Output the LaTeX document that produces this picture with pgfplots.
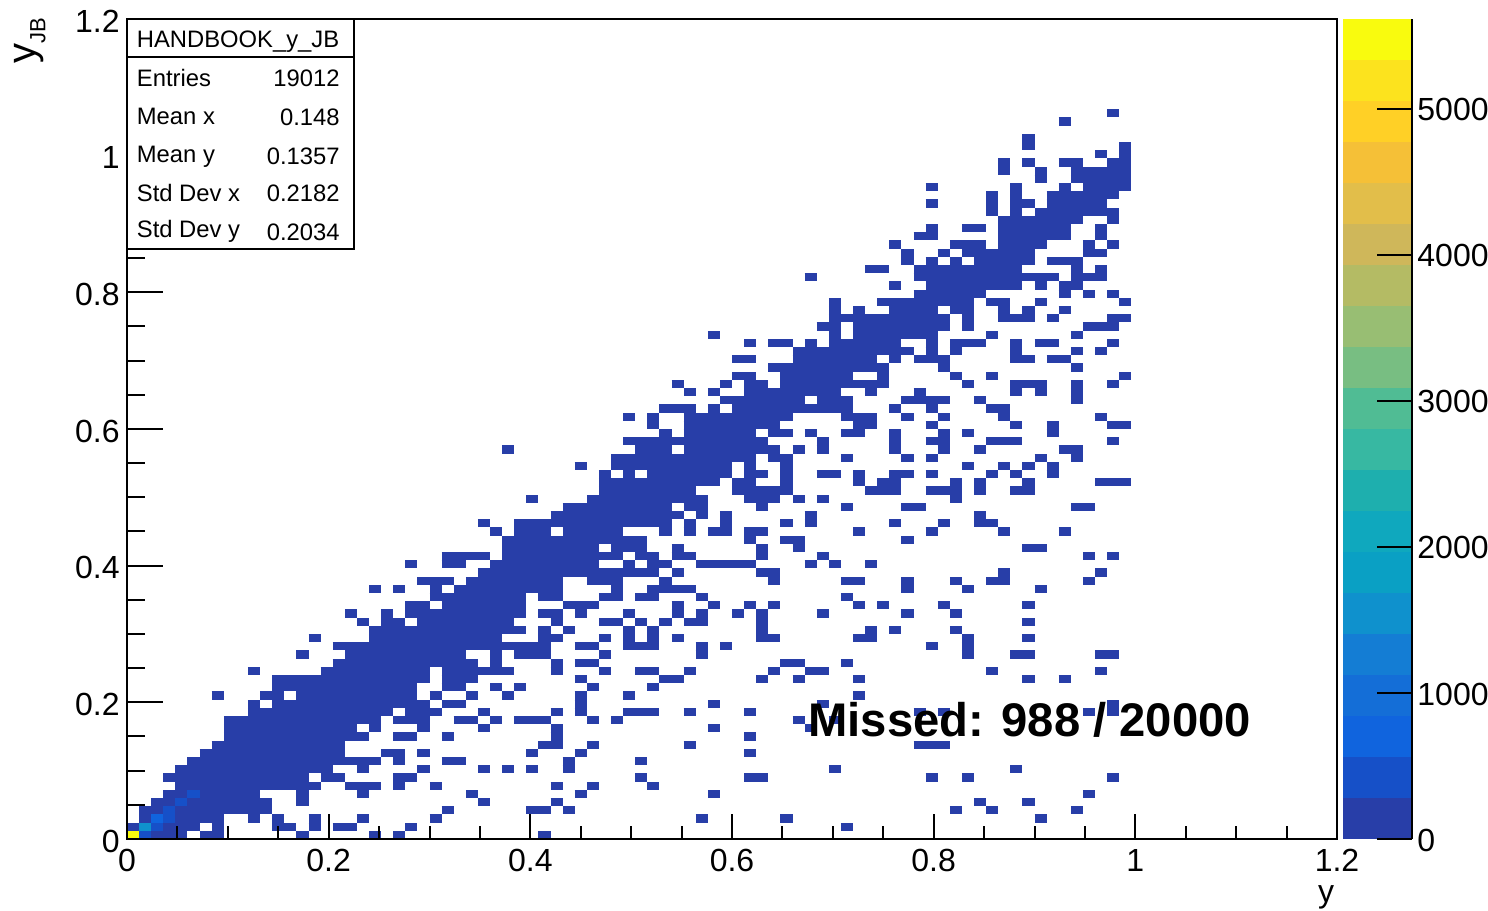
\documentclass[border=0pt]{standalone}
\usepackage{fontspec}
\setmainfont{Liberation Sans}
\usepackage{pgfplots}
\pgfplotsset{compat=1.18}

% palette of the z scale, lowest band first
\definecolor{b0}{RGB}{40,62,168}
\definecolor{b1}{RGB}{22,80,200}
\definecolor{b2}{RGB}{16,100,222}
\definecolor{b3}{RGB}{20,110,215}
\definecolor{b4}{RGB}{20,125,212}
\definecolor{b5}{RGB}{15,145,205}
\definecolor{b6}{RGB}{10,160,196}
\definecolor{b7}{RGB}{15,168,190}
\definecolor{b8}{RGB}{30,175,174}
\definecolor{b9}{RGB}{55,184,162}
\definecolor{b10}{RGB}{80,188,148}
\definecolor{b11}{RGB}{120,190,130}
\definecolor{b12}{RGB}{152,190,115}
\definecolor{b13}{RGB}{180,187,100}
\definecolor{b14}{RGB}{207,183,90}
\definecolor{b15}{RGB}{226,190,74}
\definecolor{b16}{RGB}{245,192,55}
\definecolor{b17}{RGB}{255,208,38}
\definecolor{b18}{RGB}{252,227,30}
\definecolor{b19}{RGB}{249,251,14}

\newcommand{\tickfont}{\fontsize{16}{18}\selectfont}

% a run of n filled bins in row j, starting at bin i (100 x 100 bins over 0..1.2)
\pgfplotsset{
  binruns/.style={draw=none, no markers,
    error bars/x dir=plus, error bars/x explicit, error bars/error mark=none,
    error bars/error bar style={line width=4.15pt, draw=#1, solid}},
  /pgfplots/table/bins/.style={row sep=\\, x expr=\thisrow{i}*0.012, y expr=(\thisrow{j}+0.5)*0.012,
    x error expr=\thisrow{n}*0.012},
  frame/.style={scale only axis, width=605pt, height=410pt, at={(0pt,0pt)}, anchor=south west,
    xmin=0, xmax=1.2, ymin=0, ymax=1.2, tick align=inside,
    axis line style={line width=1pt},
    every tick/.style={black, line width=1pt},
    tick label style={font=\tickfont}},
}

\begin{document}
\begin{tikzpicture}
\path[use as bounding box] (-63.5pt,-35.5pt) rectangle (680.5pt,419.5pt);

% y ticks live in their own frame, they are longer than the x ticks
\begin{axis}[frame, xtick=\empty,
  major tick length=18pt, minor tick length=9pt,
  ytick={0,0.2,0.4,0.6,0.8,1,1.2}, yticklabels={0,0.2,0.4,0.6,0.8,1,1.2},
  minor y tick num=3, ytick pos=left,
  yticklabel style={inner sep=0pt, xshift=-3.5pt, yshift=-1pt},
  ylabel={y{\raisebox{-0.45ex}{\fontsize{11}{12}\selectfont JB}}},
  ylabel style={at={(axis description cs:-0.08,0.973)}, anchor=center, font=\fontsize{20}{22}\selectfont}]
\end{axis}

\begin{axis}[frame, axis on top,
  major tick length=12.5pt, minor tick length=6.5pt,
  xtick={0,0.2,0.4,0.6,0.8,1,1.2}, xticklabels={0,0.2,0.4,0.6,0.8,1,1.2},
  minor x tick num=3, ytick=\empty, xtick pos=bottom,
  xticklabel style={inner sep=0pt, yshift=-5pt},
  xlabel={y},
  xlabel style={at={(axis description cs:0.991,-0.071)}, anchor=center, font=\tickfont}]

\addplot[binruns=b0] table[bins] {
i j n\\
2 0 3\\ 6 0 2\\ 14 0 1\\ 20 0 1\\ 22 0 1\\ 34 0 1\\
0 1 1\\ 3 1 3\\ 7 1 1\\ 12 1 2\\ 15 1 1\\ 17 1 2\\ 23 1 1\\ 59 1 1\\
1 2 1\\ 4 2 4\\ 10 2 1\\ 12 2 1\\ 15 2 1\\ 19 2 1\\ 25 2 1\\ 47 2 1\\ 54 2 1\\ 75 2 1\\
1 3 2\\ 4 3 8\\ 26 3 1\\ 33 3 2\\ 36 3 1\\ 68 3 1\\ 71 3 1\\ 78 3 1\\
2 4 2\\ 5 4 7\\ 14 4 1\\ 29 4 1\\ 35 4 1\\ 70 4 1\\ 74 4 1\\
3 5 2\\ 6 5 5\\ 14 5 1\\ 19 5 1\\ 28 5 1\\ 37 5 1\\ 48 5 1\\ 79 5 1\\
4 6 12\\ 18 6 3\\ 22 6 1\\ 25 6 1\\ 35 6 1\\ 38 6 1\\ 43 6 1\\
3 7 12\\ 16 7 2\\ 22 7 2\\ 42 7 1\\ 51 7 2\\ 66 7 1\\ 69 7 1\\ 81 7 1\\
4 8 13\\ 19 8 1\\ 24 8 1\\ 29 8 1\\ 31 8 1\\ 33 8 1\\ 36 8 1\\ 58 8 1\\ 73 8 1\\
5 9 16\\ 22 9 1\\ 26 9 2\\ 36 9 1\\ 42 9 1\\
6 10 12\\ 21 10 2\\ 24 10 1\\ 33 10 1\\ 37 10 1\\ 51 10 1\\
7 11 11\\ 34 11 2\\ 38 11 1\\ 46 11 1\\ 65 11 3\\
8 12 12\\ 22 12 2\\ 26 12 1\\ 35 12 1\\ 51 12 1\\
8 13 11\\ 20 13 1\\ 24 13 1\\ 29 13 1\\ 35 13 1\\ 48 13 1\\ 56 13 1\\
8 14 13\\ 22 14 3\\ 27 14 2\\ 30 14 1\\ 32 14 3\\ 38 14 1\\ 40 14 1\\ 55 14 1\\ 58 14 1\\
10 15 12\\ 23 15 3\\ 29 15 1\\ 35 15 1\\ 37 15 1\\ 41 15 3\\ 46 15 1\\ 51 15 1\\ 65 15 1\\ 67 15 1\\ 79 15 1\\ 81 15 1\\
10 16 1\\ 12 16 13\\ 26 16 2\\ 37 16 1\\ 48 16 1\\ 57 16 1\\ 81 16 1\\
7 17 1\\ 11 17 2\\ 14 17 10\\ 25 17 1\\ 28 17 1\\ 31 17 1\\ 37 17 1\\ 41 17 1\\ 60 17 1\\
12 18 12\\ 26 18 2\\ 30 18 1\\ 32 18 1\\ 38 18 1\\ 43 18 1\\
12 19 13\\ 26 19 3\\ 37 19 1\\ 44 19 2\\ 52 19 1\\ 55 19 1\\ 60 19 1\\ 74 19 1\\ 77 19 1\\
10 20 1\\ 16 20 9\\ 26 20 6\\ 35 20 1\\ 39 20 1\\ 42 20 2\\ 46 20 1\\ 53 20 1\\ 56 20 2\\ 71 20 1\\ 80 20 1\\
17 21 12\\ 30 21 1\\ 35 21 1\\ 37 21 2\\ 54 21 2\\ 59 21 1\\
14 22 1\\ 18 22 10\\ 30 22 1\\ 32 22 3\\ 39 22 1\\ 47 22 1\\ 69 22 1\\ 73 22 2\\ 80 22 2\\
17 23 18\\ 37 23 2\\ 41 23 3\\ 47 23 1\\ 49 23 1\\ 66 23 1\\ 69 23 1\\
15 24 1\\ 20 24 11\\ 34 24 2\\ 39 24 1\\ 41 24 1\\ 43 24 1\\ 45 24 1\\ 52 24 2\\ 60 24 2\\ 69 24 1\\ 74 24 1\\
20 25 13\\ 34 25 1\\ 36 25 1\\ 41 25 1\\ 43 25 1\\ 52 25 1\\ 61 25 1\\ 63 25 1\\ 68 25 1\\
19 26 1\\ 21 26 2\\ 24 26 8\\ 35 26 1\\ 39 26 2\\ 42 26 1\\ 44 26 1\\ 46 26 2\\ 52 26 1\\ 74 26 1\\
18 27 1\\ 21 27 1\\ 23 27 10\\ 34 27 2\\ 37 27 1\\ 41 27 1\\ 45 27 1\\ 47 27 1\\ 50 27 1\\ 52 27 1\\ 57 27 1\\ 64 27 1\\ 68 27 1\\
23 28 2\\ 26 28 7\\ 36 28 3\\ 45 28 1\\ 48 28 1\\ 51 28 1\\ 53 28 1\\ 60 28 1\\ 62 28 1\\ 67 28 1\\ 74 28 1\\
25 29 8\\ 34 29 2\\ 39 29 2\\ 42 29 2\\ 47 29 1\\ 59 29 1\\
20 30 1\\ 22 30 1\\ 25 30 1\\ 27 30 9\\ 40 30 1\\ 43 30 4\\ 64 30 1\\ 69 30 1\\ 75 30 1\\
24 31 3\\ 28 31 8\\ 38 31 3\\ 44 31 1\\ 53 31 1\\ 59 31 2\\ 64 31 1\\ 68 31 1\\ 71 31 2\\ 79 31 1\\
29 32 15\\ 45 32 1\\ 52 32 2\\ 72 32 1\\ 80 32 1\\
23 33 1\\ 26 33 2\\ 30 33 9\\ 41 33 1\\ 43 33 2\\ 47 33 5\\ 56 33 1\\ 58 33 1\\ 61 33 1\\
26 34 4\\ 31 34 10\\ 42 34 2\\ 45 34 2\\ 52 34 1\\ 57 34 1\\ 79 34 1\\ 81 34 1\\
31 35 8\\ 40 35 3\\ 45 35 1\\ 52 35 1\\ 55 35 1\\ 74 35 2\\
31 36 12\\ 51 36 1\\ 54 36 2\\ 64 36 1\\
30 37 1\\ 32 37 3\\ 36 37 5\\ 44 37 1\\ 46 37 1\\ 48 37 2\\ 51 37 2\\ 60 37 1\\ 66 37 1\\ 72 37 1\\ 77 37 1\\
29 38 1\\ 32 38 13\\ 46 38 1\\ 49 38 1\\ 54 38 1\\ 56 38 1\\ 63 38 1\\ 67 38 1\\ 70 38 2\\
35 39 11\\ 47 39 1\\ 49 39 1\\ 56 39 1\\ 70 39 1\\
36 40 9\\ 46 40 2\\ 52 40 1\\ 59 40 1\\ 64 40 2\\ 78 40 2\\
33 41 1\\ 38 41 10\\ 51 41 3\\ 55 41 1\\ 57 41 1\\ 68 41 1\\
39 42 8\\ 50 42 5\\ 61 42 3\\ 66 42 3\\ 70 42 1\\ 73 42 2\\
39 43 10\\ 50 43 2\\ 54 43 1\\ 60 43 1\\ 62 43 2\\ 68 43 1\\ 70 43 1\\ 74 43 1\\ 80 43 3\\
39 44 1\\ 41 44 1\\ 43 44 7\\ 51 44 2\\ 54 44 1\\ 57 44 2\\ 60 44 1\\ 63 44 2\\ 66 44 1\\ 71 44 1\\ 73 44 1\\ 76 44 1\\
37 45 1\\ 40 45 10\\ 51 45 1\\ 54 45 1\\ 69 45 1\\ 72 45 1\\ 74 45 1\\ 76 45 1\\
40 46 12\\ 53 46 2\\ 59 46 1\\ 64 46 1\\ 66 46 1\\ 75 46 1\\ 78 46 1\\
31 47 1\\ 42 47 3\\ 46 47 8\\ 55 47 1\\ 57 47 1\\ 63 47 1\\ 67 47 1\\ 70 47 1\\ 77 47 2\\
41 48 12\\ 57 48 1\\ 63 48 1\\ 66 48 2\\ 71 48 3\\ 81 48 1\\
44 49 1\\ 46 49 6\\ 53 49 2\\ 56 49 1\\ 59 49 2\\ 63 49 1\\ 67 49 1\\ 69 49 1\\ 76 49 1\\
43 50 1\\ 46 50 8\\ 60 50 2\\ 66 50 1\\ 73 50 1\\ 76 50 1\\ 81 50 2\\
41 51 1\\ 43 51 1\\ 46 51 9\\ 59 51 3\\ 64 51 1\\ 67 51 1\\ 72 51 1\\ 80 51 1\\
44 52 3\\ 48 52 1\\ 50 52 10\\ 63 52 1\\ 66 52 1\\ 71 52 2\\
49 53 7\\ 57 53 3\\ 64 53 4\\ 70 53 1\\ 78 53 1\\
46 54 1\\ 48 54 1\\ 51 54 8\\ 61 54 1\\ 65 54 1\\ 73 54 1\\ 75 54 1\\ 78 54 1\\
45 55 1\\ 49 55 1\\ 51 55 2\\ 54 55 9\\ 69 55 1\\ 73 55 3\\ 78 55 1\\ 81 55 1\\
50 56 2\\ 54 56 6\\ 62 56 1\\ 68 56 1\\ 71 56 1\\ 82 56 1\\
53 57 10\\ 67 57 1\\ 78 57 1\\
50 58 2\\ 55 58 7\\ 63 58 1\\ 65 58 3\\ 73 58 2\\ 76 58 2\\
55 59 10\\ 66 59 1\\ 68 59 1\\ 73 59 1\\ 78 59 1\\ 80 59 1\\
51 60 1\\ 53 60 2\\ 56 60 1\\ 58 60 6\\ 66 60 1\\ 68 60 3\\ 73 60 1\\ 75 60 2\\ 81 60 1\\
48 61 1\\ 58 61 1\\ 60 61 7\\ 71 61 1\\ 78 61 1\\
57 62 2\\ 60 62 8\\ 69 62 1\\ 79 62 3\\
58 63 10\\ 69 63 1\\ 72 63 3\\ 76 63 1\\ 81 63 2\\
58 64 1\\ 60 64 1\\ 63 64 4\\ 68 64 2\\ 72 64 1\\ 74 64 1\\ 77 64 1\\
58 65 1\\ 62 65 8\\ 71 65 2\\ 75 65 1\\ 82 65 1\\
65 66 6\\ 77 66 1\\ 79 66 1\\ 81 66 1\\
63 67 1\\ 66 67 8\\ 75 67 1\\ 77 67 2\\
56 68 1\\ 65 68 12\\ 78 68 3\\
61 69 2\\ 65 69 9\\ 78 69 1\\ 80 69 1\\
64 70 1\\ 66 70 1\\ 68 70 1\\ 70 70 5\\ 76 70 3\\
64 71 1\\ 67 71 1\\ 69 71 6\\ 79 71 2\\
63 72 1\\ 68 72 3\\ 72 72 4\\ 79 72 1\\ 81 72 1\\
65 73 2\\ 72 73 6\\ 80 73 1\\
66 74 1\\ 69 74 2\\ 72 74 6\\ 80 74 1\\
72 75 7\\ 81 75 1\\
71 76 1\\ 73 76 1\\ 75 76 7\\
66 77 1\\ 71 77 1\\ 73 77 2\\ 76 77 5\\
71 78 1\\ 73 78 1\\ 76 78 6\\
66 79 1\\ 73 79 1\\ 77 79 1\\ 79 79 4\\
75 80 1\\ 78 80 5\\
72 81 1\\ 75 81 1\\ 78 81 5\\
72 82 1\\ 74 82 1\\ 77 82 2\\ 81 82 2\\
80 83 1\\ 82 83 1\\
74 84 1\\ 82 84 1\\
74 85 1\\
77 87 1\\
81 88 1\\
};
% the few hot bins next to the origin
\addplot[binruns=b1] table[bins] {
i j n\\
1 0 1\\ 2 1 1\\ 3 2 1\\ 3 3 1\\ 4 4 1\\ 5 5 1\\
};
\addplot[binruns=b2] table[bins] {
i j n\\
2 2 1\\
};
\addplot[binruns=b5] table[bins] {
i j n\\
1 1 1\\
};
\addplot[binruns=b19] table[bins] {
i j n\\
0 0 1\\
};
\end{axis}

% z scale
\begin{axis}[scale only axis, width=34.5pt, height=410pt, at={(608pt,0pt)}, anchor=south west,
  xmin=0, xmax=1, ymin=0, ymax=5616,
  axis x line=none, axis y line=right, tick align=inside,
  axis line style={line width=1pt, -},
  every tick/.style={black, line width=1pt},
  major tick length=17.5pt,
  ytick={0,1000,2000,3000,4000,5000}, yticklabels={0,1000,2000,3000,4000,5000},
  scaled y ticks=false, axis on top,
  yticklabel style={font=\tickfont, inner sep=0pt, xshift=2.5pt, yshift=-0.5pt}]
\addplot[draw=none, fill=b0] coordinates {(0,0)(1,0)(1,281)(0,281)} --cycle;
\addplot[draw=none, fill=b1] coordinates {(0,281)(1,281)(1,562)(0,562)} --cycle;
\addplot[draw=none, fill=b2] coordinates {(0,562)(1,562)(1,842)(0,842)} --cycle;
\addplot[draw=none, fill=b3] coordinates {(0,842)(1,842)(1,1123)(0,1123)} --cycle;
\addplot[draw=none, fill=b4] coordinates {(0,1123)(1,1123)(1,1404)(0,1404)} --cycle;
\addplot[draw=none, fill=b5] coordinates {(0,1404)(1,1404)(1,1685)(0,1685)} --cycle;
\addplot[draw=none, fill=b6] coordinates {(0,1685)(1,1685)(1,1966)(0,1966)} --cycle;
\addplot[draw=none, fill=b7] coordinates {(0,1966)(1,1966)(1,2246)(0,2246)} --cycle;
\addplot[draw=none, fill=b8] coordinates {(0,2246)(1,2246)(1,2527)(0,2527)} --cycle;
\addplot[draw=none, fill=b9] coordinates {(0,2527)(1,2527)(1,2808)(0,2808)} --cycle;
\addplot[draw=none, fill=b10] coordinates {(0,2808)(1,2808)(1,3089)(0,3089)} --cycle;
\addplot[draw=none, fill=b11] coordinates {(0,3089)(1,3089)(1,3370)(0,3370)} --cycle;
\addplot[draw=none, fill=b12] coordinates {(0,3370)(1,3370)(1,3650)(0,3650)} --cycle;
\addplot[draw=none, fill=b13] coordinates {(0,3650)(1,3650)(1,3931)(0,3931)} --cycle;
\addplot[draw=none, fill=b14] coordinates {(0,3931)(1,3931)(1,4212)(0,4212)} --cycle;
\addplot[draw=none, fill=b15] coordinates {(0,4212)(1,4212)(1,4493)(0,4493)} --cycle;
\addplot[draw=none, fill=b16] coordinates {(0,4493)(1,4493)(1,4774)(0,4774)} --cycle;
\addplot[draw=none, fill=b17] coordinates {(0,4774)(1,4774)(1,5054)(0,5054)} --cycle;
\addplot[draw=none, fill=b18] coordinates {(0,5054)(1,5054)(1,5335)(0,5335)} --cycle;
\addplot[draw=none, fill=b19] coordinates {(0,5335)(1,5335)(1,5616)(0,5616)} --cycle;
\end{axis}

% stats box and the note, placed in reference pixels
\begin{scope}[shift={(-63.5pt,419.5pt)}, x=0.5pt, y=-0.5pt,
    every node/.style={inner sep=0pt, font=\fontsize{11.9}{14}\selectfont}]
\draw[line width=1pt, fill=white] (127,19) rectangle (354,249);
\draw[line width=1pt] (127,57) -- (354,57);
\node[anchor=base west] at (136.5,48) {HANDBOOK\_y\_JB};
\node[anchor=base west] at (136.5,87) {Entries};
\node[anchor=base east] at (340,87) {19012};
\node[anchor=base west] at (136.5,125) {Mean x};
\node[anchor=base east] at (340,126) {0.148};
\node[anchor=base west] at (136.5,163) {Mean y};
\node[anchor=base east] at (340,165) {0.1357};
\node[anchor=base west] at (136.5,202) {Std Dev x};
\node[anchor=base east] at (340,202) {0.2182};
\node[anchor=base west] at (136.5,238) {Std Dev y};
\node[anchor=base east] at (340,241) {0.2034};
\node[anchor=base west, font=\fontsize{23.6}{28}\selectfont\bfseries] at (808,737) {Missed: 988 / 20000};
\end{scope}
\end{tikzpicture}
\end{document}
